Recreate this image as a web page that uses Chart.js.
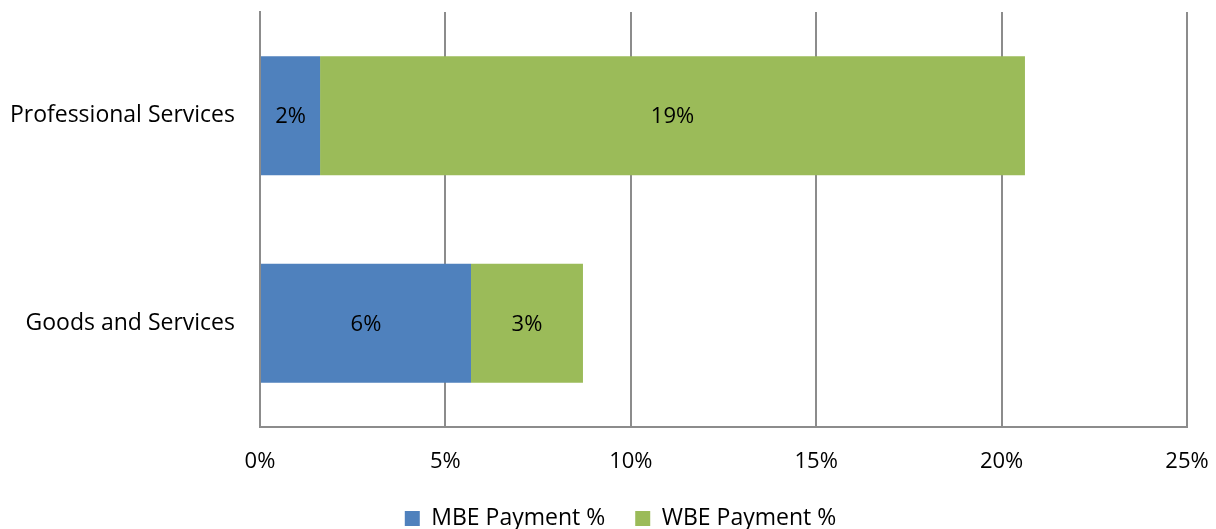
<!DOCTYPE html>
<html>
<head>
<meta charset="utf-8">
<script src="https://cdn.jsdelivr.net/npm/chart.js@4.4.0/dist/chart.umd.min.js"></script>
<style>
  html, body { margin: 0; padding: 0; background: #fff; overflow: hidden; }
  #wrap { width: 1216px; height: 540px; }
</style>
</head>
<body>
<div id="wrap"><canvas id="c" width="1216" height="540"></canvas></div>
<script>
const categories = ['Professional Services', 'Goods and Services'];
const mbeValues = [1.62, 5.69];
const wbeValues = [19.01, 3.02];
const seriesNames = ['MBE Payment %', 'WBE Payment %'];
const xTicks = [0, 5, 10, 15, 20, 25];

const FONT = '"Open Sans", "Liberation Sans", sans-serif';
const FS = 22;
const FS_BIG = 23;

const barLabels = {
  id: 'barLabels',
  afterDatasetsDraw(chart) {
    const ctx = chart.ctx;
    ctx.save();
    ctx.font = FS + 'px ' + FONT;
    ctx.fillStyle = '#000';
    ctx.textAlign = 'center';
    ctx.textBaseline = 'middle';
    chart.data.datasets.forEach((ds, di) => {
      const meta = chart.getDatasetMeta(di);
      meta.data.forEach((el, i) => {
        const v = ds.data[i];
        const p = el.getProps(['x', 'y', 'base'], true);
        const cx = (p.x + p.base) / 2;
        ctx.fillText(Math.round(v) + '%', cx, p.y + 1);
      });
    });
    ctx.restore();
  }
};

const legendShift = {
  id: 'legendShift',
  afterLayout(chart) {
    if (chart.legend) { chart.legend.left += 27; chart.legend.right += 27; }
  }
};

new Chart(document.getElementById('c'), {
  type: 'bar',
  data: {
    labels: categories,
    datasets: [
      { label: seriesNames[0], data: mbeValues, backgroundColor: '#4F81BD', borderWidth: 0,
        barPercentage: 0.573, categoryPercentage: 1 },
      { label: seriesNames[1], data: wbeValues, backgroundColor: '#9BBB59', borderWidth: 0,
        barPercentage: 0.573, categoryPercentage: 1 }
    ]
  },
  options: {
    indexAxis: 'y',
    responsive: false,
    animation: false,
    devicePixelRatio: 1,
    layout: { padding: { top: 12, right: 29, left: 0, bottom: 0 } },
    scales: {
      x: {
        stacked: true,
        min: 0, max: 25,
        afterBuildTicks(scale) { scale.ticks = xTicks.map(v => ({ value: v })); },
        ticks: {
          callback: v => v + '%',
          color: '#000',
          font: { family: FONT, size: FS },
          padding: 22,
          maxRotation: 0
        },
        grid: { color: '#8c8c8c', lineWidth: 2, drawTicks: false },
        border: { color: '#8c8c8c', width: 2 },
        afterFit(scale) { scale.height = 50; scale.paddingLeft = 0; scale.paddingRight = 0; }
      },
      y: {
        stacked: true,
        ticks: {
          color: '#000',
          font: { family: FONT, size: FS_BIG },
          padding: 25
        },
        grid: { display: false, drawTicks: false },
        border: { color: '#8c8c8c', width: 2 },
        afterFit(scale) { scale.width = 260; scale.paddingTop = 0; scale.paddingBottom = 0; }
      }
    },
    plugins: {
      legend: {
        position: 'bottom',
        labels: {
          color: '#000',
          font: { family: FONT, size: FS_BIG },
          boxWidth: 15, boxHeight: 15,
          padding: 30
        }
      },
      tooltip: { enabled: false }
    }
  },
  plugins: [barLabels, legendShift]
});
</script>
</body>
</html>
